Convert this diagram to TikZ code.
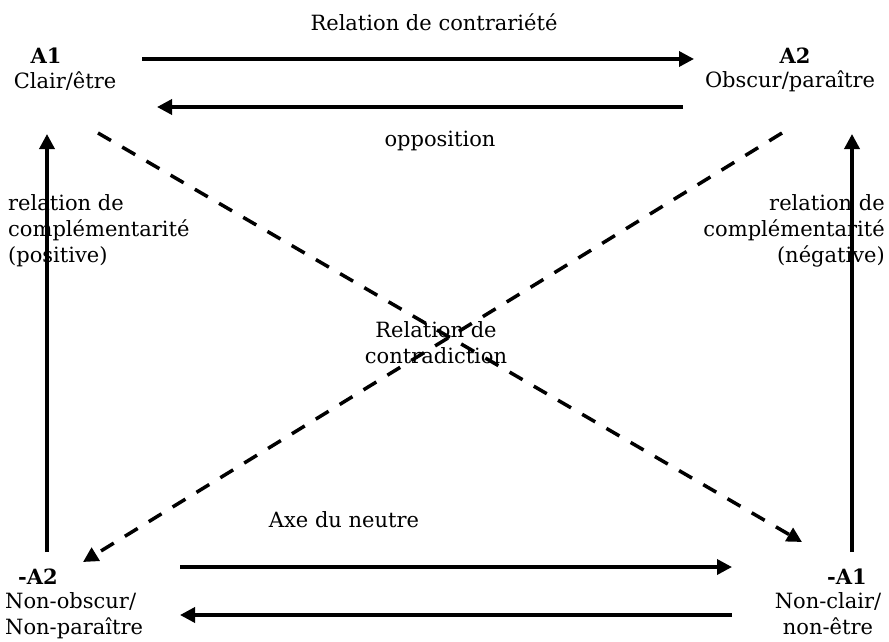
\documentclass[tikz,border=0pt]{standalone}
\usepackage{fontspec}
\setmainfont{DejaVu Serif}
\usetikzlibrary{arrows.meta}
\tikzset{
  lbl/.style={inner sep=0pt, font=\fontsize{21}{26}\selectfont, align=center},
  arr/.style={line width=3.5pt, -{Triangle[length=15pt,width=15pt]}},
  darr/.style={line width=3.5pt, dash pattern=on 15pt off 13pt, -{Triangle[length=15pt,width=15pt]}}
}
\begin{document}
\begin{tikzpicture}[x=1pt,y=-1pt]
\useasboundingbox (0,0) rectangle (889,642);
% labels
\node[lbl] (contr) at (434,22) {Relation de contrariété};
\node[lbl] (a1t) at (46,56) {\textbf{A1}};
\node[lbl] (a1n) at (65,81) {Clair/être};
\node[lbl] (a2t) at (795,56) {\textbf{A2}};
\node[lbl] (a2n) at (790,81) {Obscur/paraître};
\node[lbl] (opp) at (440,141) {opposition};
\node[lbl, align=left, anchor=west] (lpos) at (8,231) {relation de\\complémentarité\\(positive)};
\node[lbl, align=right, anchor=east] (rneg) at (885,231) {relation de\\complémentarité\\(négative)};
\node[lbl] (contra) at (436,343) {Relation de\\contradiction};
\node[lbl] (axe) at (344,520) {Axe du neutre};
\node[lbl] (na2t) at (38,577) {\textbf{-A2}};
\node[lbl, align=left, anchor=west] (na2n) at (5,616) {Non-obscur/\\Non-paraître};
\node[lbl] (na1t) at (847,577) {\textbf{-A1}};
\node[lbl] (na1n) at (828,614) {Non-clair/\\non-être};
% connector endpoints
\coordinate (t1s) at (142,59); \coordinate (t1e) at (694,59);
\coordinate (t2s) at (683,107); \coordinate (t2e) at (157,107);
\coordinate (b1s) at (180,567); \coordinate (b1e) at (732,567);
\coordinate (b2s) at (732,615); \coordinate (b2e) at (180,615);
\coordinate (ls) at (47,552); \coordinate (le) at (47,134);
\coordinate (rs) at (852,552); \coordinate (re) at (852,134);
\coordinate (d1s) at (98,133); \coordinate (d1e) at (802,542);
\coordinate (d2s) at (782,133); \coordinate (d2e) at (83,562);
% connectors
\draw[arr] (t1s) -- (t1e);
\draw[arr] (t2s) -- (t2e);
\draw[arr] (b1s) -- (b1e);
\draw[arr] (b2s) -- (b2e);
\draw[arr] (ls) -- (le);
\draw[arr] (rs) -- (re);
\draw[darr] (d1s) -- (d1e);
\draw[darr] (d2s) -- (d2e);
\end{tikzpicture}
\end{document}
